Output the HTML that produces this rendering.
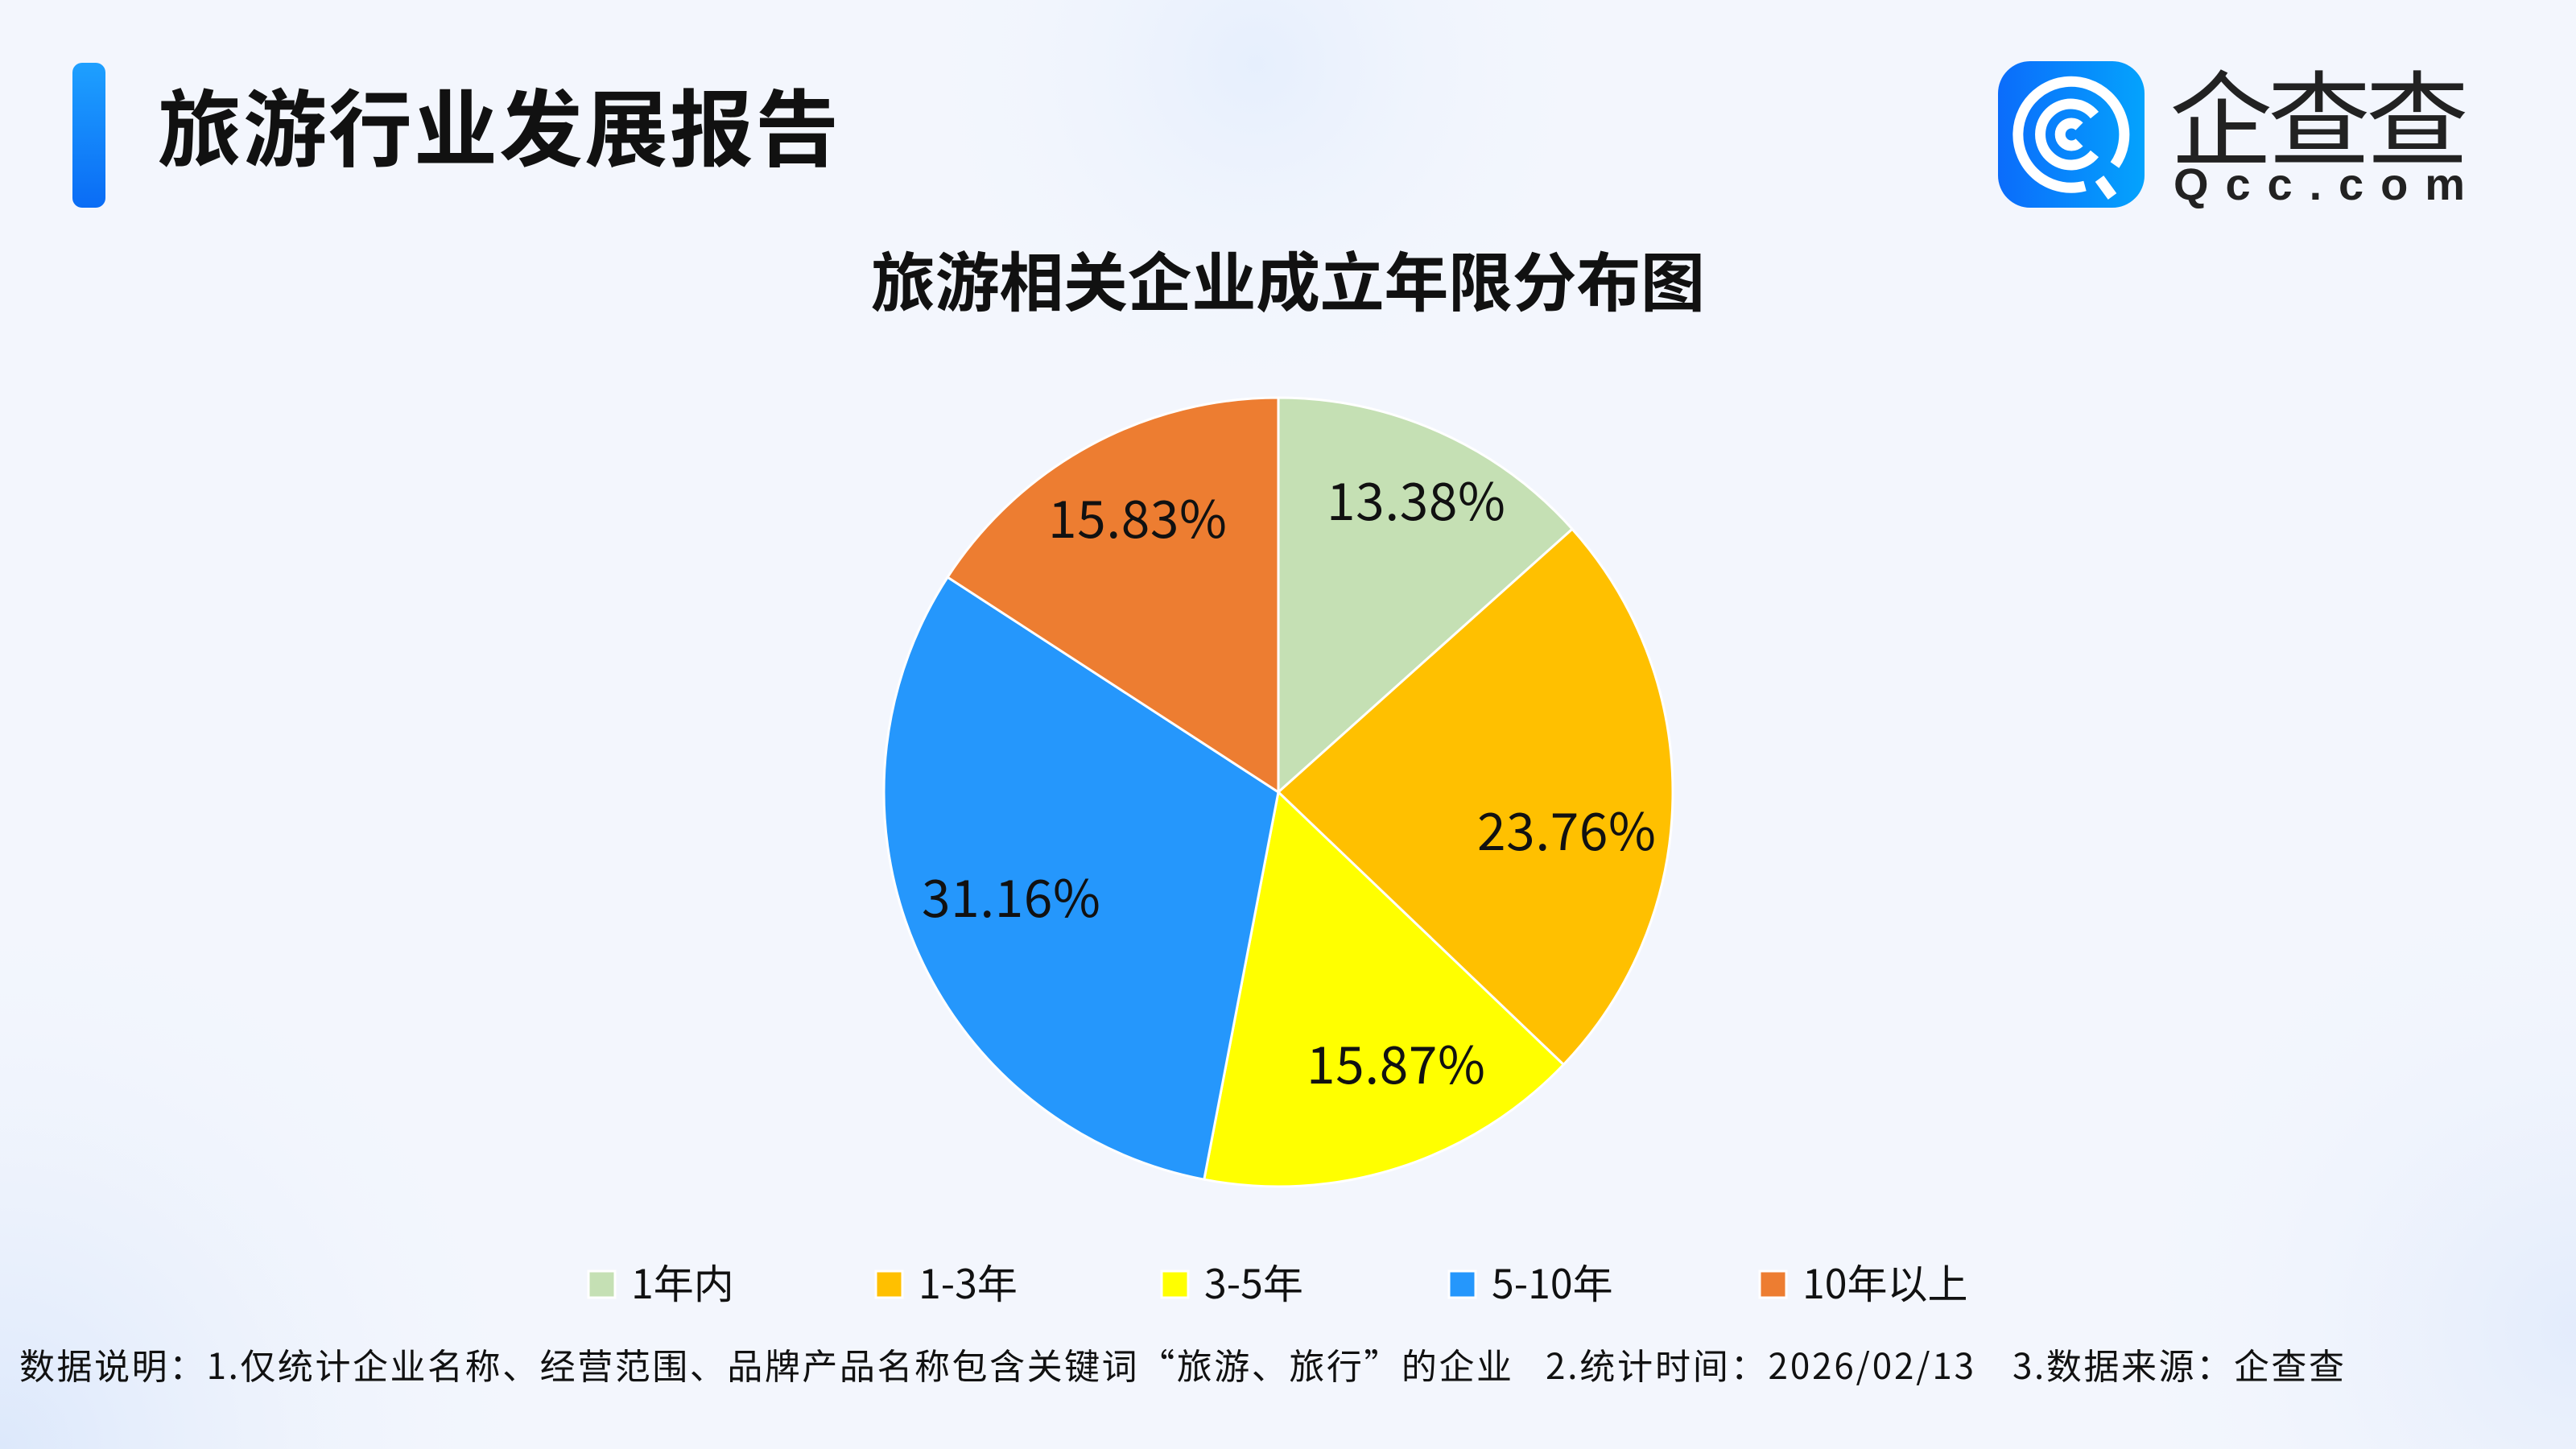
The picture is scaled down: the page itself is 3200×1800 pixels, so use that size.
<!DOCTYPE html>
<html><head><meta charset="utf-8"><style>
html,body{margin:0;padding:0;width:3200px;height:1800px;overflow:hidden;background:#f3f6fd}
svg{display:block}
text{font-family:"Liberation Sans","Noto Sans CJK SC",sans-serif}
.n{font-family:"Noto Sans CJK SC","Liberation Sans",sans-serif}
</style></head><body>
<svg width="3200" height="1800" viewBox="0 0 3200 1800" xmlns="http://www.w3.org/2000/svg">
<defs>
<radialGradient id="b1" cx="1560" cy="80" r="440" gradientUnits="userSpaceOnUse">
<stop offset="0" stop-color="#e6effd"/><stop offset="1" stop-color="#f3f6fd" stop-opacity="0"/></radialGradient>
<radialGradient id="b2" cx="0" cy="1800" r="700" gradientUnits="userSpaceOnUse">
<stop offset="0" stop-color="#dce8fb"/><stop offset="1" stop-color="#f3f6fd" stop-opacity="0"/></radialGradient>
<radialGradient id="b3" cx="3200" cy="1650" r="600" gradientUnits="userSpaceOnUse">
<stop offset="0" stop-color="#e3ecfc"/><stop offset="1" stop-color="#f3f6fd" stop-opacity="0"/></radialGradient>
<linearGradient id="bar" x1="0" y1="0" x2="0" y2="1"><stop offset="0" stop-color="#1ea0ff"/><stop offset="1" stop-color="#0a6cf5"/></linearGradient>
<linearGradient id="lg" x1="0" y1="0" x2="1" y2="0"><stop offset="0" stop-color="#0b6cfb"/><stop offset="1" stop-color="#04a3fd"/></linearGradient>
</defs>
<rect width="3200" height="1800" fill="#f3f6fd"/>
<rect width="3200" height="1800" fill="url(#b1)"/>
<rect width="3200" height="1800" fill="url(#b2)"/>
<rect width="3200" height="1800" fill="url(#b3)"/>

<rect x="90" y="78" width="41" height="180" rx="12" fill="url(#bar)"/>
<text class="n" x="196" y="198" font-size="104" font-weight="bold" fill="#111" textLength="846">旅游行业发展报告</text>

<!-- logo -->
<rect x="2482" y="76" width="182" height="182" rx="40" fill="url(#lg)"/>
<g fill="none" stroke="#fff" stroke-width="13">
<path d="M2590 231 A66 66 0 1 1 2627 205"/>
<path d="M2602 191 A38 38 0 1 1 2602 143"/>
<path d="M2583 177 A14 14 0 1 1 2583 157"/>
<line x1="2608" y1="222" x2="2624" y2="244"/>
</g>
<text class="n" x="2695" y="195" font-size="128" fill="#222" textLength="372">企查查</text>
<text x="2700" y="248" font-size="56" fill="#222" font-weight="bold" textLength="362">Qcc.com</text>

<text class="n" x="1600" y="380" font-size="80" font-weight="bold" fill="#111" text-anchor="middle" textLength="1036">旅游相关企业成立年限分布图</text>

<!-- pie -->
<g stroke="#fff" stroke-width="3" stroke-linejoin="round">
<path d="M1588 984 L1588 494 A490 490 0 0 1 1953.1 657.2 Z" fill="#c5e0b4"/>
<path d="M1588 984 L1953.1 657.2 A490 490 0 0 1 1942.3 1322.5 Z" fill="#ffc000"/>
<path d="M1588 984 L1942.3 1322.5 A490 490 0 0 1 1495.8 1465.2 Z" fill="#ffff00"/>
<path d="M1588 984 L1495.8 1465.2 A490 490 0 0 1 1177.1 717.0 Z" fill="#2597fc"/>
<path d="M1588 984 L1177.1 717.0 A490 490 0 0 1 1588 494 Z" fill="#ed7d31"/>
</g>
<g font-size="64" fill="#111" text-anchor="middle">
<text class="n" x="1759" y="646" textLength="222">13.38%</text>
<text class="n" x="1946" y="1056" textLength="222">23.76%</text>
<text class="n" x="1734" y="1346" textLength="222">15.87%</text>
<text class="n" x="1256" y="1139" textLength="222">31.16%</text>
<text class="n" x="1413" y="668" textLength="222">15.83%</text>
</g>

<!-- legend -->
<g stroke="#fff" stroke-width="3">
<rect x="731" y="1579" width="33" height="33" fill="#c5e0b4"/>
<rect x="1088" y="1579" width="33" height="33" fill="#ffc000"/>
<rect x="1443" y="1579" width="33" height="33" fill="#ffff00"/>
<rect x="1800" y="1579" width="33" height="33" fill="#2597fc"/>
<rect x="2186" y="1579" width="33" height="33" fill="#ed7d31"/>
</g>
<g font-size="50" fill="#111">
<text class="n" x="784" y="1613">1年内</text>
<text class="n" x="1141" y="1613">1-3年</text>
<text class="n" x="1496" y="1613">3-5年</text>
<text class="n" x="1853" y="1613">5-10年</text>
<text class="n" x="2239" y="1613">10年以上</text>
</g>
<g font-size="44" fill="#111">
<text class="n" x="24" y="1713" textLength="1854">数据说明：1.仅统计企业名称、经营范围、品牌产品名称包含关键词“旅游、旅行”的企业</text>
<text class="n" x="1920" y="1713" textLength="532">2.统计时间：2026/02/13</text>
<text class="n" x="2500" y="1713" textLength="412">3.数据来源：企查查</text>
</g>
</svg>
</body></html>
